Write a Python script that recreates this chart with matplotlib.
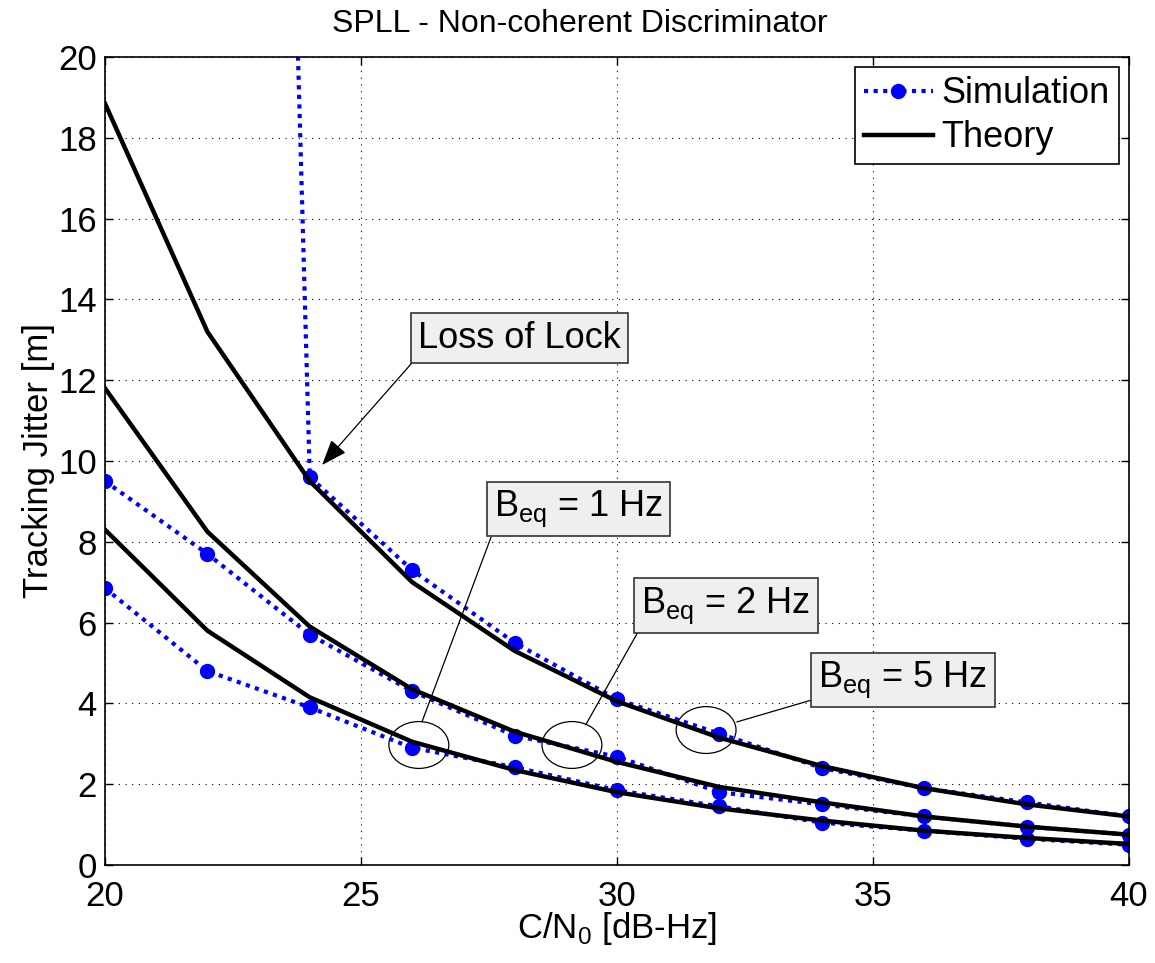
import matplotlib
matplotlib.use("Agg")
import matplotlib.pyplot as plt
import numpy as np
from matplotlib.patches import Ellipse
from matplotlib.lines import Line2D

plt.rcParams['font.family'] = ['Liberation Sans', 'DejaVu Sans']
plt.rcParams['mathtext.fontset'] = 'custom'
plt.rcParams['mathtext.rm'] = 'Liberation Sans'

cn0 = [20, 22, 24, 26, 28, 30, 32, 34, 36, 38, 40]

theory_b5 = [18.85, 13.2, 9.5, 7.0, 5.3, 4.05, 3.15, 2.45, 1.9, 1.5, 1.2]
sim_b5 = [150, 100, 9.6, 7.3, 5.5, 4.1, 3.25, 2.4, 1.9, 1.55, 1.2]

theory_b2 = [11.8, 8.25, 5.9, 4.35, 3.3, 2.55, 1.93, 1.55, 1.2, 0.95, 0.75]
sim_b2 = [9.5, 7.7, 5.7, 4.3, 3.2, 2.68, 1.8, 1.5, 1.2, 0.95, 0.75]

theory_b1 = [8.3, 5.8, 4.15, 3.05, 2.35, 1.8, 1.4, 1.1, 0.85, 0.67, 0.52]
sim_b1 = [6.85, 4.8, 3.9, 2.9, 2.42, 1.85, 1.45, 1.05, 0.85, 0.65, 0.5]

fig = plt.figure(figsize=(11.55, 9.63), dpi=100)
ax = fig.add_axes([0.0909, 0.1018, 0.9775 - 0.0909, 0.9408 - 0.1018])

dot = (0, (1, 1.3))
sim_kw = dict(color='#0000ff', linestyle=dot, linewidth=3.0, marker='o',
              markersize=10, markerfacecolor='#0000ff', markeredgecolor='#0000ff',
              dash_capstyle='butt')
th_kw = dict(color='black', linewidth=3.2, solid_joinstyle='miter')

for s in [sim_b5, sim_b2, sim_b1]:
    ax.plot(cn0, s, **sim_kw)
for t in [theory_b5, theory_b2, theory_b1]:
    ax.plot(cn0, t, **th_kw)

ax.set_xlim(20, 40)
ax.set_ylim(0, 20)
ax.set_xticks([20, 25, 30, 35, 40])
ax.set_yticks(np.arange(0, 21, 2))
ax.tick_params(direction='in', length=6, width=1, top=True, right=True,
               labelsize=25)
ax.tick_params(axis='x', pad=11)
ax.tick_params(axis='y', pad=6)
ax.grid(True, color='black', linestyle=(0, (1, 5)), linewidth=0.8)
for sp in ax.spines.values():
    sp.set_linewidth(1.2)

ax.set_title('SPLL - Non-coherent Discriminator', fontsize=23, pad=18, x=0.464)
ax.set_xlabel(r'C/N$_{\mathregular{0}}$ [dB-Hz]', fontsize=25, labelpad=-2)
ax.set_ylabel('Tracking Jitter [m]', fontsize=25, labelpad=2)

h1 = Line2D([], [], **sim_kw)
h2 = Line2D([], [], **th_kw)
leg = ax.legend([h1, h2], ['Simulation', 'Theory'], loc='upper right',
                fontsize=26, fancybox=False, framealpha=1, edgecolor='black',
                borderaxespad=0.28, handlelength=1.9, handletextpad=0.25,
                borderpad=0.25, labelspacing=0.25)
leg.get_frame().set_linewidth(1.2)

box = dict(boxstyle='square,pad=0.2', facecolor='#efefef', edgecolor='#333333', linewidth=1.2)

ax.annotate('Loss of Lock', xy=(24.24, 9.9), xytext=(28.1, 13.04),
            fontsize=26, ha='center', va='center', bbox=box,
            arrowprops=dict(arrowstyle='-|>,head_length=0.8,head_width=0.3',
                            color='black', lw=0.9, relpos=(0, 0),
                            shrinkA=0, shrinkB=0, mutation_scale=20))

labels = [
    (r'B$_{\mathregular{eq}}$ = 1 Hz', (29.25, 8.81), (26.19, 3.54), (0, 0)),
    (r'B$_{\mathregular{eq}}$ = 2 Hz', (32.13, 6.42), (29.39, 3.47), (0, 0)),
    (r'B$_{\mathregular{eq}}$ = 5 Hz', (35.58, 4.58), (32.34, 3.54), (0, 0.05)),
]
for txt, pos, tip, rp in labels:
    ax.annotate(txt, xy=tip, xytext=pos, fontsize=26, ha='center', va='center',
                bbox=box,
                arrowprops=dict(arrowstyle='-', color='black', lw=0.9,
                                relpos=rp, shrinkA=0, shrinkB=0))

for (cx, cy, w, h) in [(26.13, 2.97, 1.17, 1.16), (29.12, 2.97, 1.17, 1.16),
                       (31.74, 3.34, 1.17, 1.16)]:
    ax.add_patch(Ellipse((cx, cy), w, h, fill=False, edgecolor='black', lw=0.9))

fig.savefig('out.png', dpi=100)
